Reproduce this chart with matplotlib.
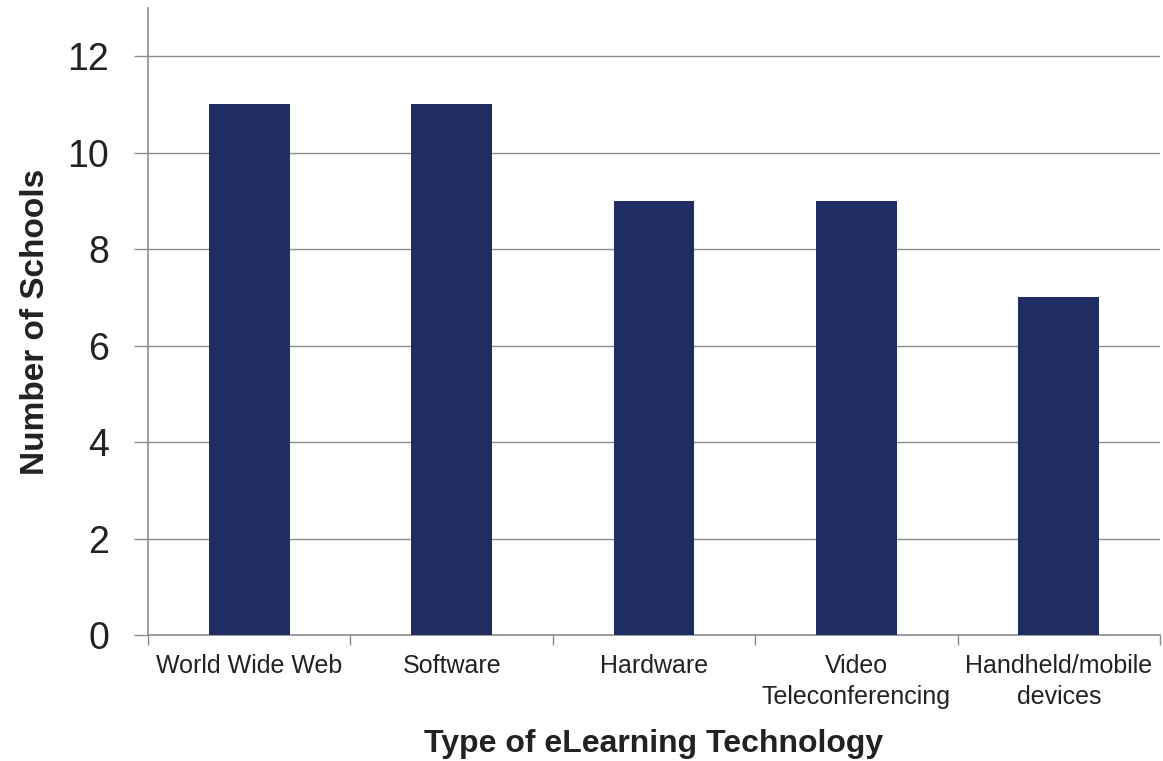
import matplotlib
matplotlib.use("Agg")
import matplotlib.pyplot as plt
from matplotlib.ticker import FixedLocator, NullFormatter

plt.rcParams['font.family'] = ['Liberation Sans', 'DejaVu Sans']

categories = ["World Wide Web", "Software", "Hardware",
              "Video\nTeleconferencing", "Handheld/mobile\ndevices"]
schools = [11, 11, 9, 9, 7]

bar_color = "#202d62"
grid_color = "#8c8c8c"

fig = plt.figure(figsize=(11.63, 7.61), dpi=100)
ax = fig.add_axes([0.1273, 0.1656, 0.8701, 0.8239])

x = list(range(len(categories)))
ax.bar(x, schools, width=0.4, color=bar_color, zorder=3)

ax.set_xlim(-0.5, len(categories) - 0.5)
ax.set_ylim(0, 13)

ax.set_yticks([0, 2, 4, 6, 8, 10, 12])
ax.yaxis.grid(True, color=grid_color, linewidth=1.0, zorder=0)
ax.tick_params(axis='y', labelsize=27, length=10, width=1.0,
               color=grid_color, pad=18, labelcolor="#222222")

# category labels at centres, ticks on the boundaries
ax.set_xticks(x)
ax.set_xticklabels(categories, fontsize=18, color="#222222", linespacing=1.35)
ax.tick_params(axis='x', which='major', length=0, pad=14)
ax.xaxis.set_minor_locator(FixedLocator([i - 0.5 for i in range(len(categories) + 1)]))
ax.xaxis.set_minor_formatter(NullFormatter())
ax.tick_params(axis='x', which='minor', length=7, width=1.0, color=grid_color)

for side in ['top', 'right']:
    ax.spines[side].set_visible(False)
for side in ['left', 'bottom']:
    ax.spines[side].set_color(grid_color)
    ax.spines[side].set_linewidth(1.2)

ax.set_ylabel("Number of Schools", fontsize=24, fontweight='bold',
              color="#222222", labelpad=12)
ax.set_xlabel("Type of eLearning Technology", fontsize=23, fontweight='bold',
              color="#222222", labelpad=14)

fig.savefig("out.png", dpi=100)
